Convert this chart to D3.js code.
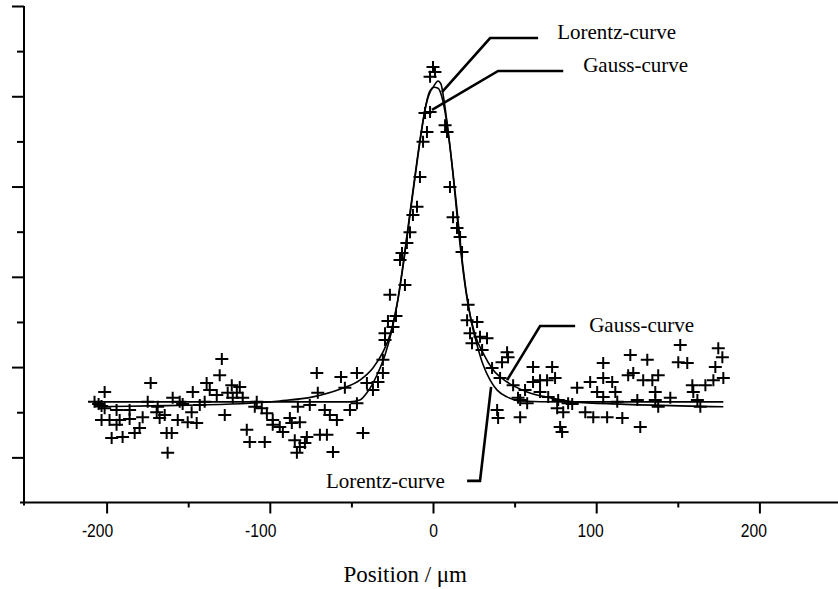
<!DOCTYPE html>
<html>
<head>
<meta charset="utf-8">
<script src="https://cdn.jsdelivr.net/npm/d3@7"></script>
<style>
body { margin: 0; background: #fff; }
.tick text { font-family: "Liberation Sans", Arial, sans-serif; font-size: 18px; fill: #000; }
.lbl { font-family: "Liberation Serif", "Times New Roman", serif; fill: #000; }
</style>
</head>
<body>
<div id="chart"></div>
<script>
// scan data: [position / um, intensity (arb. units)]
var scanPoints = [
  [-207.4,2.23],[-204.9,2.18],[-203.1,2.14],[-201.2,2.45],[-201.2,2.09],[-203.1,1.83],[-198.2,1.83],
  [-196.9,1.43],[-193.9,2.05],[-193.9,1.72],[-192.0,1.83],[-190.2,1.45],[-185.9,2.05],[-185.9,1.85],
  [-182.8,1.54],[-179.8,1.65],[-177.9,1.89],[-174.8,2.23],[-173.0,2.65],[-169.3,2.00],[-168.7,2.12],
  [-167.5,1.87],[-164.4,1.94],[-163.2,1.54],[-160.1,1.54],[-162.6,1.10],[-159.5,2.32],[-156.4,1.83],
  [-155.2,2.23],[-153.4,2.18],[-150.3,1.78],[-147.9,2.00],[-147.2,2.45],[-144.8,1.76],[-142.9,2.16],
  [-139.9,2.23],[-138.7,2.65],[-136.8,2.49],[-132.5,2.38],[-130.7,2.82],[-129.4,3.18],[-127.6,1.94],
  [-125.8,2.43],[-123.3,2.60],[-120.2,2.43],[-118.4,2.56],[-122.7,2.32],[-116.6,2.32],[-114.1,1.61],
  [-112.3,1.34],[-109.2,2.12],[-108.0,2.23],[-104.9,2.09],[-103.1,1.34],[-101.8,1.98],[-98.2,1.83],
  [-98.2,1.72],[-93.9,1.67],[-92.0,1.56],[-87.7,1.87],[-86.5,1.76],[-84.7,1.38],[-83.4,1.10],
  [-82.8,2.12],[-81.6,1.78],[-81.6,1.23],[-78.5,1.32],[-77.3,1.45],[-75.5,2.16],[-71.2,2.87],
  [-70.6,2.43],[-69.3,1.50],[-66.3,2.05],[-65.0,1.50],[-63.2,1.94],[-61.3,1.12],[-58.9,1.83],
  [-56.4,2.78],[-54.0,2.54],[-50.9,2.05],[-46.6,2.87],[-46.6,2.20],[-42.9,1.54],[-40.5,2.65],
  [-36.8,2.49],[-33.7,2.67],[-30.7,2.87],[-30.7,3.16],[-29.4,3.60],[-29.4,3.75],[-24.5,3.89],
  [-22.7,4.13],[-27.6,4.02],[-26.4,4.60],[-20.2,5.37],[-19.0,5.53],[-17.2,4.82],[-16.0,5.75],
  [-14.1,5.99],[-12.3,6.37],[-9.8,6.55],[-8.0,7.21],[-6.1,7.99],[-3.7,8.21],[-4.9,8.63],
  [-1.8,8.65],[-1.8,9.43],[0.0,9.65],[1.2,9.54],
  [7.4,8.36],[8.6,8.21],[10.4,6.99],[12.3,6.32],[14.7,6.08],[16.6,5.88],[17.8,5.55],
  [21.5,4.38],[20.9,4.04],[27.0,4.00],[22.7,3.75],[28.8,3.67],[33.1,3.64],[23.9,3.53],
  [30.1,3.38],[45.4,3.33],[46.0,3.22],[42.3,3.11],[36.2,2.98],[41.1,2.76],[49.1,2.60],
  [61.3,3.00],[73.0,3.00],[61.3,2.67],[65.6,2.71],[69.9,2.71],[74.8,2.76],[56.4,2.49],
  [65.6,2.45],[53.4,2.27],[57.7,2.20],[70.6,2.34],[76.7,2.27],[39.3,2.05],[39.9,1.87],
  [53.4,1.89],[76.1,2.09],[79.8,2.00],[77.9,1.67],[79.1,1.56],[82.8,2.20],[85.3,2.18],
  [88.3,2.54],[96.3,2.67],[93.3,2.00],[98.2,1.89],[106.7,1.89],[116.0,1.87],[104.3,3.09],
  [120.9,3.27],[131.3,3.16],[104.3,2.76],[109.8,2.67],[100.6,2.45],[111.7,2.45],[104.3,2.34],
  [112.9,2.23],[125.2,2.27],[119.6,2.82],[122.7,2.87],[128.8,2.71],[134.4,2.71],[138.0,2.82],
  [136.2,2.45],[136.2,2.27],[138.0,2.12],[127.0,1.67],[145.4,2.32],[151.5,3.49],[150.3,3.11],
  [155.8,3.09],[159.5,2.45],[162.0,2.27],[158.9,2.60],[163.8,2.12],[166.9,2.60],[173.0,3.00],
  [174.8,3.42],[177.3,3.22],[177.9,2.76],[171.8,2.71],[52.1,2.32]
];

// fitted curves
var gaussCurve = [
  [-207.4,2.23],[-81.6,2.23],[-50.9,2.23],[-44.8,2.27],[-40.5,2.43],[-34.4,2.82],[-29.4,3.27],
  [-25.2,3.82],[-21.5,4.49],[-17.8,5.37],[-14.1,6.37],[-10.4,7.37],[-7.4,8.14],[-4.3,8.81],
  [-1.8,9.09],[0.6,9.20],[3.1,9.18],[5.5,8.98],[8.0,8.52],[11.0,7.70],[14.1,6.70],[17.2,5.59],
  [20.2,4.71],[23.3,4.04],[27.0,3.49],[30.7,3.05],[35.0,2.71],[39.3,2.49],[45.4,2.34],
  [53.4,2.25],[77.9,2.23],[177.9,2.23]
];
var lorentzCurve = [
  [-207.4,2.12],[-173.6,2.14],[-142.9,2.16],[-112.3,2.20],[-93.9,2.25],[-73.6,2.34],[-57.1,2.51],
  [-44.8,2.71],[-36.8,2.98],[-30.7,3.33],[-26.4,3.71],[-22.1,4.38],[-18.4,5.26],[-14.7,6.26],
  [-11.0,7.25],[-8.0,8.03],[-4.9,8.70],[-2.5,9.07],[0.0,9.20],[3.1,9.34],[4.9,9.27],[6.7,8.92],
  [9.2,8.25],[12.3,7.26],[15.3,6.15],[18.4,5.15],[21.5,4.38],[25.8,3.71],[30.7,3.31],[36.8,2.94],
  [45.4,2.67],[57.7,2.45],[71.8,2.32],[85.9,2.23],[114.7,2.18],[151.5,2.14],[177.9,2.12]
];

var xMajor = [-200, -100, 0, 100, 200];
var xMinor = [-150, -50, 50, 150];
var yMajor = [1, 3, 5, 7, 9, 11];
var yMinor = [2, 4, 6, 8, 10];

// annotations: label, text anchor point, leader line
var annoLabels = ["Lorentz-curve", "Gauss-curve", "Gauss-curve", "Lorentz-curve"];
var annoText = [[76.1, 10.27], [92.0, 9.54], [95.7, 3.78], [-65.6, 0.32]];
var annoLeaders = [
  [[64.4, 10.29], [35.0, 10.29], [5.5, 9.09]],
  [[79.8, 9.56], [39.9, 9.56], [-0.6, 8.70]],
  [[87.1, 3.91], [65.6, 3.91], [45.4, 2.71]],
  [[20.9, 0.48], [28.8, 0.48], [35.6, 2.56]]
];

var width = 838, height = 589;

var svg = d3.select("#chart").append("svg")
    .attr("width", width)
    .attr("height", height);

var x = d3.scaleLinear().domain([-250, 250]).range([25, 841]);
var y = d3.scaleLinear().domain([0, 11]).range([502.5, 6]);

var axisX = 24, axisY = y(0);

// axis lines
svg.append("line")
    .attr("x1", axisX).attr("x2", axisX)
    .attr("y1", y(11)).attr("y2", axisY + 3)
    .style("stroke", "#000").style("stroke-width", 2);
svg.append("line")
    .attr("x1", axisX - 4).attr("x2", width)
    .attr("y1", axisY).attr("y2", axisY)
    .style("stroke", "#000").style("stroke-width", 2);

// y ticks, no labels
function yTicks(vals, size) {
    var g = svg.append("g")
        .attr("transform", "translate(" + axisX + ",0)")
        .call(d3.axisLeft(y).tickValues(vals).tickSize(size).tickSizeOuter(0).tickFormat(""));
    g.select(".domain").remove();
    g.selectAll("line").style("stroke", "#000").style("stroke-width", 2);
}
yTicks(yMajor, 12);
yTicks(yMinor, 7);

// x ticks
var gx = svg.append("g")
    .attr("transform", "translate(0," + axisY + ")")
    .call(d3.axisBottom(x).tickValues(xMajor).tickSize(11).tickPadding(11).tickSizeOuter(0)
        .tickFormat(function(d){ return String(d); }));
gx.select(".domain").remove();
gx.selectAll("line").style("stroke", "#000").style("stroke-width", 2);
// narrow labels, sitting a little left of their ticks as in the original
gx.selectAll("text")
    .attr("transform", "scale(0.87,1)")
    .attr("x", function(d){ return d < 0 ? -11 : (d > 0 ? -7 : 0); });

var gxm = svg.append("g")
    .attr("transform", "translate(0," + axisY + ")")
    .call(d3.axisBottom(x).tickValues(xMinor).tickSize(5).tickSizeOuter(0).tickFormat(""));
gxm.select(".domain").remove();
gxm.selectAll("line").style("stroke", "#000").style("stroke-width", 2);

// fitted curves
var line = d3.line()
    .x(function(d){ return x(d[0]); })
    .y(function(d){ return y(d[1]); })
    .curve(d3.curveMonotoneX);

svg.append("path").datum(gaussCurve)
    .attr("d", line)
    .style("fill", "none").style("stroke", "#000").style("stroke-width", 1.6);
svg.append("path").datum(lorentzCurve)
    .attr("d", line)
    .style("fill", "none").style("stroke", "#000").style("stroke-width", 1.6);

// data points as plus signs
svg.selectAll("path.pt")
    .data(scanPoints)
    .enter()
    .append("path")
    .attr("class", "pt")
    .attr("transform", function(d){ return "translate(" + x(d[0]) + "," + y(d[1]) + ")"; })
    .attr("d", "M-6.5,0H6.5M0,-6V6")
    .style("fill", "none").style("stroke", "#000").style("stroke-width", 2);

// leader lines
var straight = d3.line()
    .x(function(d){ return x(d[0]); })
    .y(function(d){ return y(d[1]); });

svg.selectAll("path.leader")
    .data(annoLeaders)
    .enter()
    .append("path")
    .attr("class", "leader")
    .attr("d", straight)
    .style("fill", "none").style("stroke", "#000").style("stroke-width", 2.6);

svg.selectAll("text.anno")
    .data(annoLabels)
    .enter()
    .append("text")
    .attr("class", "lbl anno")
    .attr("x", function(d, i){ return x(annoText[i][0]); })
    .attr("y", function(d, i){ return y(annoText[i][1]); })
    .style("font-size", "21px")
    .text(function(d){ return d; });

// axis title
svg.append("text")
    .attr("class", "lbl")
    .attr("x", x(-17))
    .attr("y", 582)
    .attr("text-anchor", "middle")
    .style("font-size", "23px")
    .text("Position / \u03bcm");
</script>
</body>
</html>
